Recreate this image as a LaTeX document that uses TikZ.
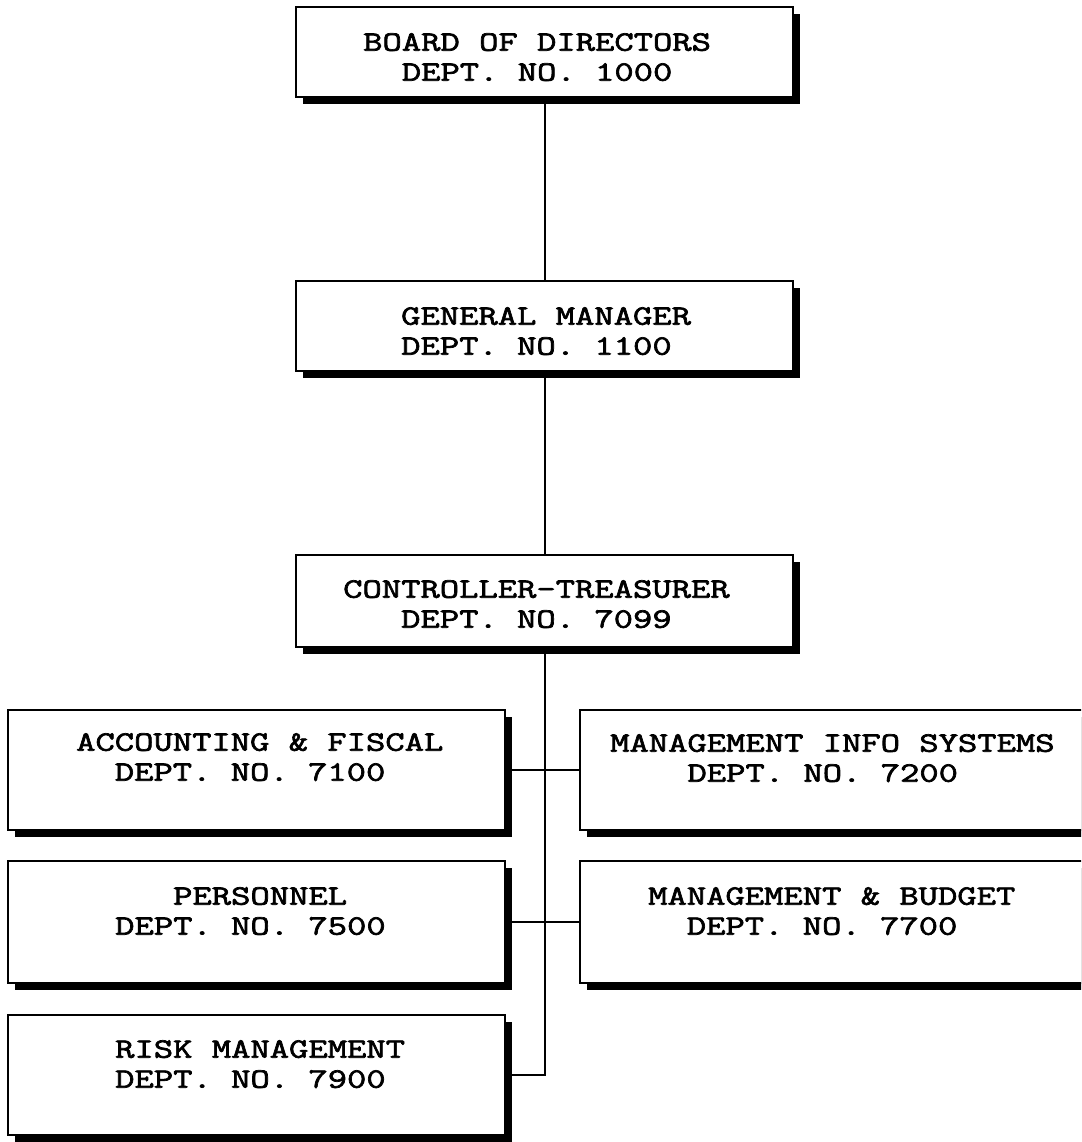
\documentclass[tikz,border=0pt]{standalone}
\usepackage{fontspec}
\usetikzlibrary{shadows}
\newfontfamily\boxfont[FakeStretch=1.34,FakeBold=2.5]{Latin Modern Mono}
\begin{document}
\frenchspacing
\begin{tikzpicture}[x=1pt,y=-1pt,
  unit/.style={draw=black, line width=2pt, fill=white, rectangle, inner sep=0pt,
    drop shadow={shadow xshift=7pt, shadow yshift=-7pt, fill=black, opacity=1}},
  upper/.style={unit, minimum width=497pt},
  lower/.style={unit, minimum width=497pt, minimum height=120pt},
  wide/.style={lower, minimum width=700pt},
  caption/.style={anchor=north west, inner sep=0pt, align=left,
    font=\boxfont\fontsize{28}{30}\selectfont},
  link/.style={line width=2pt}]

% page frame
\useasboundingbox (0,0) rectangle (1081,1142);
\fill[white] (0,0) rectangle (1081,1142);
\clip (0,0) rectangle (1081,1142);

% boxes
\node[upper, minimum height=90pt] (board) at (544.5,52) {};
\node[upper, minimum height=90pt] (gm)    at (544.5,326) {};
\node[upper, minimum height=92pt] (ctrl)  at (544.5,601) {};
\node[lower] (acc)  at (256.5,770) {};
\node[lower, minimum height=122pt] (pers) at (256.5,922) {};
\node[lower] (risk) at (256.5,1075) {};
\node[wide] (mis) at (930,770) {};
\node[wide, minimum height=122pt] (mb) at (930,922) {};

% connectors
\draw[link] (board.south) -- (gm.north);
\draw[link] (gm.south) -- (ctrl.north);
\draw[link] (ctrl.south) -- (ctrl.south |- risk.east) -- (risk.east);
\draw[link] (acc.east) -- (mis.west);
\draw[link] (pers.east) -- (mb.west);

% captions
\node[caption] (tboard) at (363,33)  {BOARD OF DIRECTORS\\\hphantom{XX}DEPT. NO. 1000};
\node[caption] (tgm)    at (401,307) {GENERAL MANAGER\\DEPT. NO. 1100};
\node[caption] (tctrl)  at (343,580) {CONTROLLER-TREASURER\\\hphantom{XXX}DEPT. NO. 7099};
\node[caption] (tacc)   at (76,733)  {ACCOUNTING \& FISCAL\\\hphantom{XX}DEPT. NO. 7100};
\node[caption] (tpers)  at (115,887) {\hphantom{XXX}PERSONNEL\\DEPT. NO. 7500};
\node[caption] (trisk)  at (115,1040) {RISK MANAGEMENT\\DEPT. NO. 7900};
\node[caption] (tmis)   at (610,734) {MANAGEMENT INFO SYSTEMS\\\hphantom{XXXX}DEPT. NO. 7200};
\node[caption] (tmb)    at (648,887) {MANAGEMENT \& BUDGET\\\hphantom{XX}DEPT. NO. 7700};
\end{tikzpicture}
\end{document}
